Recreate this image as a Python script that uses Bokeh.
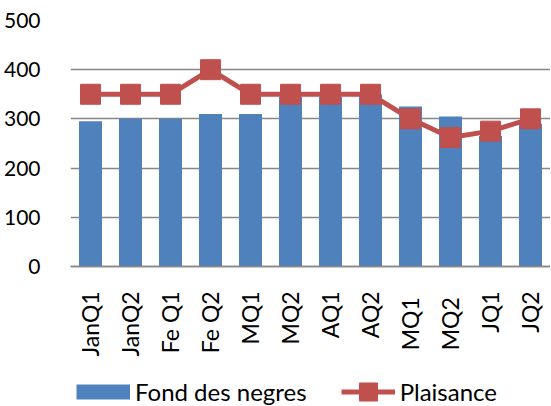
import math
from bokeh.plotting import figure
from bokeh.models import (ColumnDataSource, FactorRange, Range1d, FixedTicker,
                          Legend, LegendItem)
from bokeh.embed import file_html
from bokeh.resources import INLINE

categories = ["JanQ1", "JanQ2", "Fe Q1", "Fe Q2", "MQ1", "MQ2",
              "AQ1", "AQ2", "MQ1 ", "MQ2 ", "JQ1", "JQ2"]
fond_des_negres = [295, 300, 300, 310, 310, 345, 345, 350, 325, 305, 265, 290]
plaisance = [350, 350, 350, 400, 350, 350, 350, 350, 300, 262, 275, 300]
y_ticks = [0, 100, 200, 300, 400, 500]

FONT = "Lato"
BLUE = "#4F81BD"
RED = "#C0504D"
GRID = "#868686"

src = ColumnDataSource(dict(cat=categories, fond=fond_des_negres, plais=plaisance))

# the frame extends below zero so that the tick labels and legend sit inside it
p = figure(x_range=FactorRange(*categories, range_padding=0),
           y_range=Range1d(-285, 500),
           frame_width=480, frame_height=386,
           output_backend="svg", toolbar_location=None,
           min_border_left=63, min_border_right=0, min_border_top=20,
           min_border_bottom=0)
p.outline_line_color = None
p.background_fill_color = "white"
p.border_fill_color = "white"

bars = p.vbar(x="cat", top="fond", width=0.575, source=src,
              fill_color=BLUE, line_color=None)
line = p.line(x="cat", y="plais", source=src, line_color=RED, line_width=5)
marks = p.scatter(x="cat", y="plais", source=src, marker="square", size=20,
                  fill_color=RED, line_color=RED)
# legend swatch for the bars: a single-point line draws nothing in the plot
swatch = p.line(x=categories[:1], y=fond_des_negres[:1], line_color=BLUE,
                line_width=15, line_cap="butt")

# axes
p.yaxis.ticker = FixedTicker(ticks=y_ticks)
p.yaxis.axis_line_color = None
p.yaxis.major_tick_line_color = None
p.yaxis.minor_tick_line_color = None
p.yaxis.major_label_standoff = 24
p.yaxis.major_label_text_font = FONT
p.yaxis.major_label_text_font_size = "21px"
p.yaxis.major_label_text_color = "black"

p.xaxis.fixed_location = 0
p.xaxis.axis_line_color = GRID
p.xaxis.axis_line_width = 1.5
p.xaxis.major_tick_line_color = None
p.xaxis.minor_tick_line_color = None
p.xaxis.major_label_orientation = math.pi / 2
p.xaxis.major_label_standoff = 19
p.xaxis.major_label_text_font = FONT
p.xaxis.major_label_text_font_size = "23px"
p.xaxis.major_label_text_color = "black"

p.xgrid.grid_line_color = None
p.ygrid.ticker = FixedTicker(ticks=y_ticks)
p.ygrid.grid_line_color = GRID
p.ygrid.grid_line_width = 1.5

legend = Legend(items=[LegendItem(label="Fond des negres", renderers=[swatch]),
                       LegendItem(label="Plaisance", renderers=[line, marks])],
                orientation="horizontal", location=(6, -8),
                glyph_width=54, glyph_height=45, spacing=34,
                label_text_font=FONT, label_text_font_size="24px",
                label_text_color="black", label_standoff=5,
                border_line_color=None, background_fill_alpha=0,
                padding=0, margin=0)
p.add_layout(legend)

open("out.html", "w").write(file_html(p, INLINE))
